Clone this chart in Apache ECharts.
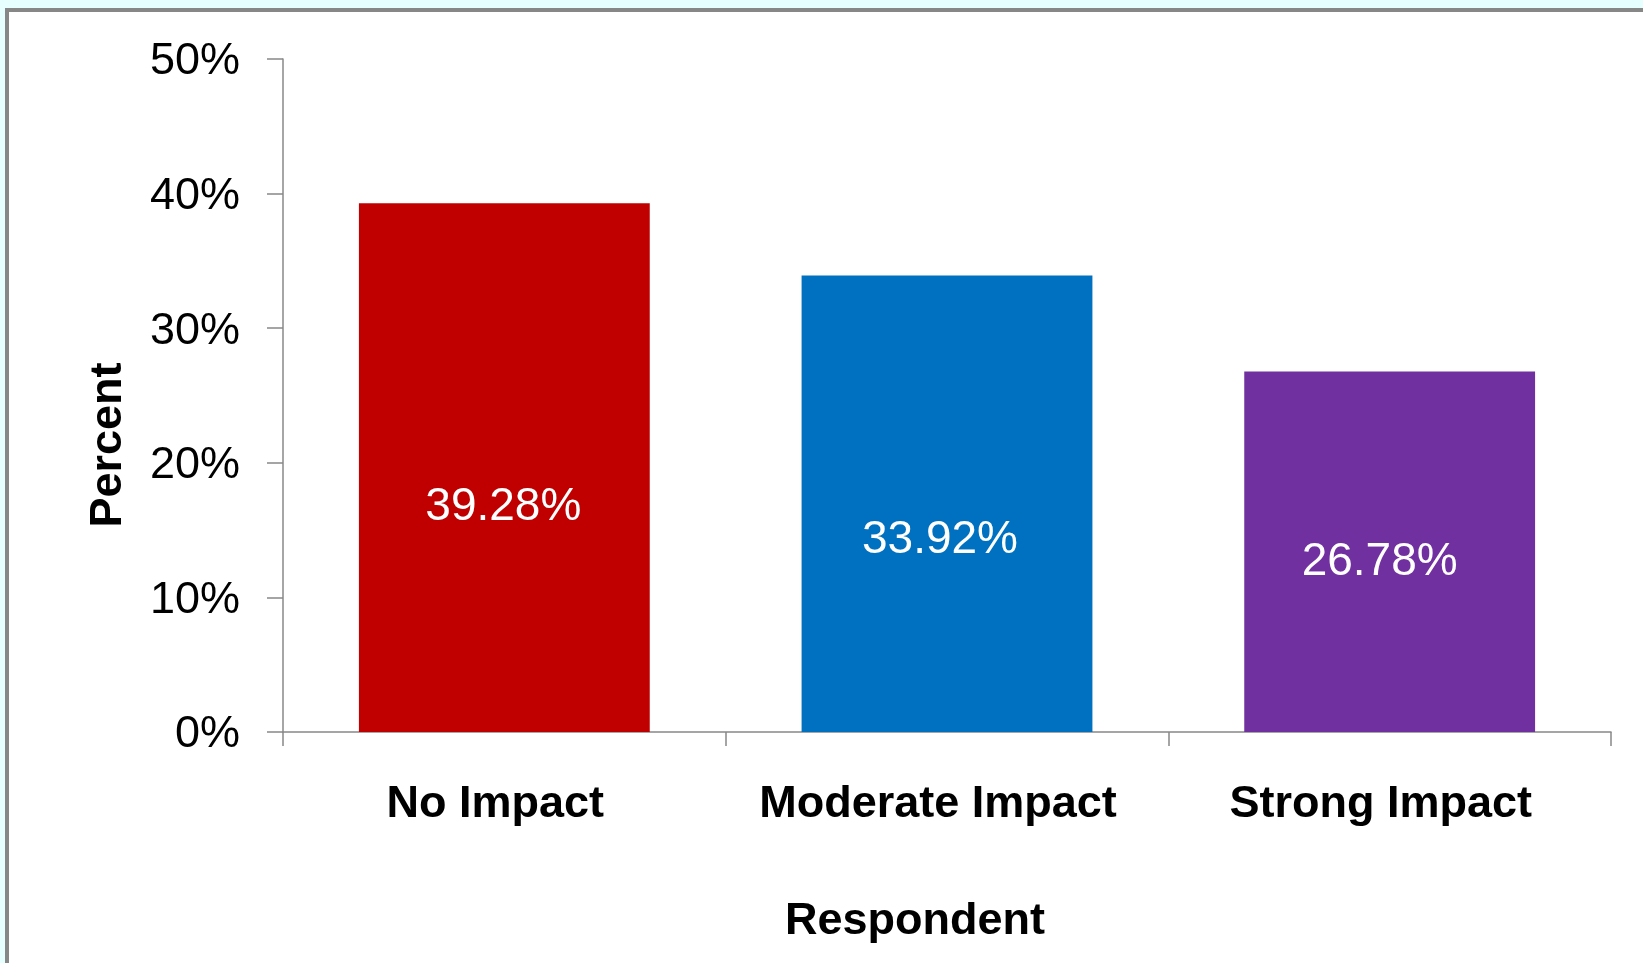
<!DOCTYPE html>
<html>
<head>
<meta charset="utf-8">
<script src="https://cdn.jsdelivr.net/npm/echarts@6/dist/echarts.min.js"></script>
<style>
  html, body { margin: 0; padding: 0; width: 1643px; height: 963px; overflow: hidden; background: #E6FFFF; }
  #frame { position: absolute; left: 5px; top: 8px; width: 1638px; height: 955px; border-left: 4px solid #878787; border-top: 4px solid #878787; background: #ffffff; }
  #chart { position: absolute; left: 0; top: 0; width: 1634px; height: 951px; }
</style>
</head>
<body>
<div id="frame"><div id="chart"></div></div>
<script>
const categories = ['No Impact', 'Moderate Impact', 'Strong Impact'];
const values = [39.28, 33.92, 26.78];
const barColors = ['#C00000', '#0070C0', '#7030A0'];
const yTicks = [0, 10, 20, 30, 40, 50];
const xAxisTitle = 'Respondent';
const yAxisTitle = 'Percent';

const labelOffsets = [[-1, 40], [-7, 37], [-10, 11]];
const FONT = '"Liberation Sans", Arial, sans-serif';

const chart = echarts.init(document.getElementById('chart'));
chart.setOption({
  animation: false,
  backgroundColor: '#ffffff',
  grid: { left: 274, right: 32, top: 47, bottom: 231, containLabel: false },
  xAxis: {
    type: 'category',
    data: categories,
    axisLine: { lineStyle: { color: '#888888', width: 1.5 } },
    axisTick: { show: true, interval: 0, length: 14, lineStyle: { color: '#888888', width: 1.5 } },
    axisLabel: { interval: 0, hideOverlap: false, color: '#000', fontFamily: FONT, fontSize: 45, fontWeight: 'bold', margin: 50, padding: [0, 18, 0, 0] },
    splitLine: { show: false }
  },
  yAxis: {
    type: 'value',
    min: yTicks[0],
    max: yTicks[yTicks.length - 1],
    interval: yTicks[1] - yTicks[0],
    axisLine: { show: true, lineStyle: { color: '#888888', width: 1.5 } },
    axisTick: { show: true, length: 16, lineStyle: { color: '#888888', width: 1.5 } },
    axisLabel: { color: '#000', fontFamily: FONT, fontSize: 45, margin: 43, verticalAlign: 'top', lineHeight: 6, formatter: '{value}%' },
    splitLine: { show: false }
  },
  graphic: [
    {
      type: 'text',
      x: 100, y: 433, rotation: Math.PI / 2,
      style: { text: yAxisTitle, font: 'bold 45px ' + FONT, fill: '#000', align: 'center', verticalAlign: 'middle' }
    },
    {
      type: 'text',
      x: 906, y: 910,
      style: { text: xAxisTitle, font: 'bold 45px ' + FONT, fill: '#000', align: 'center', verticalAlign: 'middle' }
    }
  ],
  series: [{
    type: 'bar',
    barWidth: '65.7%',
    data: values.map((v, i) => ({
      value: v,
      itemStyle: { color: barColors[i] },
      label: { offset: labelOffsets[i] }
    })),
    label: {
      show: true,
      position: 'inside',
      color: '#ffffff',
      fontFamily: FONT,
      fontSize: 46,
      formatter: p => p.value.toFixed(2) + '%'
    }
  }]
});
</script>
</body>
</html>
